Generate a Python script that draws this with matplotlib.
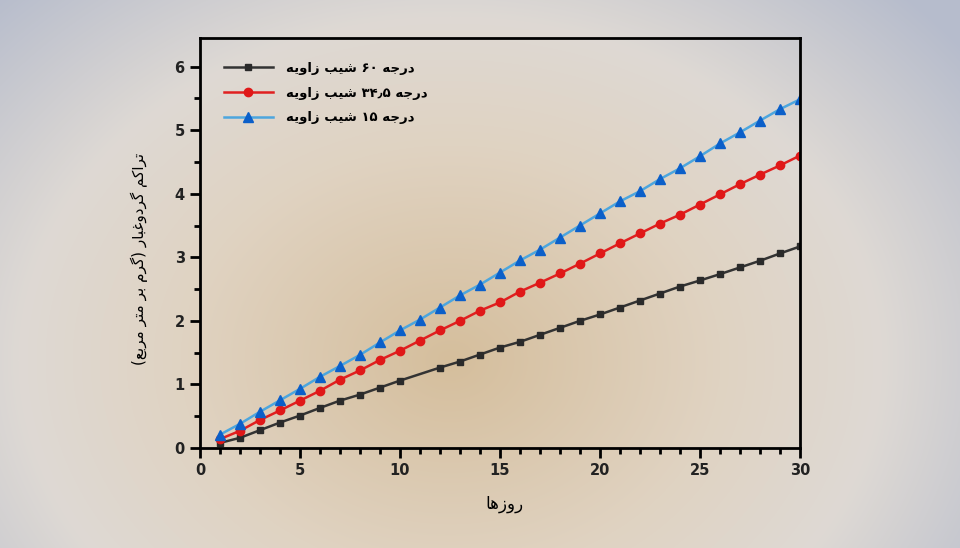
import re
import numpy as np
import matplotlib.pyplot as plt

# data
days_60 = [1, 2, 3, 4, 5, 6, 7, 8, 9, 10, 12, 13, 14, 15, 16, 17, 18, 19, 20,
           21, 22, 23, 24, 25, 26, 27, 28, 29, 30]
dust_60 = [0.08, 0.16, 0.28, 0.40, 0.51, 0.63, 0.745, 0.84, 0.95, 1.06, 1.265,
           1.36, 1.47, 1.58, 1.67, 1.78, 1.89, 2.00, 2.10, 2.21, 2.32, 2.43,
           2.54, 2.635, 2.735, 2.84, 2.945, 3.06, 3.17]

days = list(range(1, 31))
dust_345 = [0.14, 0.27, 0.44, 0.59, 0.745, 0.90, 1.075, 1.22, 1.385, 1.53,
            1.69, 1.85, 2.00, 2.16, 2.29, 2.46, 2.60, 2.745, 2.90, 3.06,
            3.22, 3.375, 3.53, 3.67, 3.83, 3.99, 4.15, 4.30, 4.445, 4.60]
dust_15 = [0.21, 0.38, 0.57, 0.75, 0.93, 1.12, 1.29, 1.465, 1.66, 1.85,
           2.02, 2.21, 2.40, 2.57, 2.76, 2.95, 3.12, 3.31, 3.50, 3.69,
           3.88, 4.04, 4.23, 4.40, 4.59, 4.79, 4.965, 5.15, 5.33, 5.485]

label_60 = 'زاویه شیب ۶۰ درجه'
label_345 = 'زاویه شیب ۳۴٫۵ درجه'
label_15 = 'زاویه شیب ۱۵ درجه'
xlabel = 'روزها'
ylabel = 'تراکم گردوغبار (گرم بر متر مربع)'

# matplotlib does no arabic shaping, so use presentation forms + reverse
FORMS = {
    'ا': ('\uFE8D', '\uFE8E', None, None),
    'ب': ('\uFE8F', '\uFE90', '\uFE91', '\uFE92'),
    'ت': ('\uFE95', '\uFE96', '\uFE97', '\uFE98'),
    'ج': ('\uFE9D', '\uFE9E', '\uFE9F', '\uFEA0'),
    'د': ('\uFEA9', '\uFEAA', None, None),
    'ر': ('\uFEAD', '\uFEAE', None, None),
    'ز': ('\uFEAF', '\uFEB0', None, None),
    'ش': ('\uFEB5', '\uFEB6', '\uFEB7', '\uFEB8'),
    'ع': ('\uFEC9', '\uFECA', '\uFECB', '\uFECC'),
    'غ': ('\uFECD', '\uFECE', '\uFECF', '\uFED0'),
    'ک': ('\uFB8E', '\uFB8F', '\uFB90', '\uFB91'),
    'گ': ('\uFB92', '\uFB93', '\uFB94', '\uFB95'),
    'م': ('\uFEE1', '\uFEE2', '\uFEE3', '\uFEE4'),
    'ه': ('\uFEE9', '\uFEEA', '\uFEEB', '\uFEEC'),
    'و': ('\uFEED', '\uFEEE', None, None),
    'ی': ('\uFBFC', '\uFBFD', '\uFBFE', '\uFBFF'),
}


def shape(text):
    out = []
    for i, ch in enumerate(text):
        if ch not in FORMS:
            out.append(ch)
            continue
        prev = text[i - 1] if i > 0 else ''
        nxt = text[i + 1] if i + 1 < len(text) else ''
        join_prev = prev in FORMS and FORMS[prev][2] is not None
        join_next = FORMS[ch][2] is not None and nxt in FORMS
        iso, fin, ini, med = FORMS[ch]
        if join_prev and join_next:
            out.append(med)
        elif join_prev:
            out.append(fin)
        elif join_next:
            out.append(ini)
        else:
            out.append(iso)
    return ''.join(out)


def fix_digits(s):
    return re.sub(r'[\u06F0-\u06F9\u066B0-9.]+', lambda m: m.group(0)[::-1], s)


def fa(text):
    # full right-to-left line
    s = shape(text)[::-1]
    s = s.translate(str.maketrans('()', ')('))
    return fix_digits(s)


def fa_words(text):
    # words kept in typed order, letters of each word right-to-left (as in the legend)
    return ' '.join(fix_digits(shape(w)[::-1]) for w in text.split(' '))


fig = plt.figure(figsize=(9.6, 5.48), dpi=100)

# radial background
h, w = 548, 960
yy, xx = np.mgrid[0:h, 0:w]
d = np.sqrt(((xx - 450) / 540.0) ** 2 + ((yy - 360) / 430.0) ** 2)
stops = [0.0, 0.5, 0.8, 1.2]
cols = np.array([[213, 190, 156], [224, 211, 194], [222, 217, 212], [182, 188, 204]]) / 255.0
img = np.dstack([np.interp(d, stops, cols[:, k]) for k in range(3)])
bg = fig.add_axes([0, 0, 1, 1], zorder=-1)
bg.imshow(img, aspect='auto')
bg.axis('off')

ax = fig.add_axes([0.2083, 0.1825, 0.625, 0.7482])
ax.set_facecolor('none')

ax.plot(days_60, dust_60, color='#333333', lw=1.8, marker='s', ms=5,
        mfc='#2a2a2a', mec='#2a2a2a', label=fa_words(label_60))
ax.plot(days, dust_345, color='#e02020', lw=1.8, marker='o', ms=6,
        mfc='#e01818', mec='#e01818', label=fa_words(label_345))
ax.plot(days, dust_15, color='#4ca6de', lw=1.8, marker='^', ms=7,
        mfc='#0b5fc9', mec='#0b5fc9', label=fa_words(label_15))

ax.set_xlim(0, 30)
ax.set_ylim(0, 6.45)
ax.set_xticks([0, 5, 10, 15, 20, 25, 30])
ax.set_xticks(np.arange(0, 31, 1), minor=True)
ax.set_yticks([0, 1, 2, 3, 4, 5, 6])
ax.set_yticks(np.arange(0, 6.5, 0.5), minor=True)
ax.tick_params(which='major', direction='out', length=7, width=2, labelsize=10.5, pad=4)
ax.tick_params(which='minor', direction='out', length=4, width=2)
for t in ax.get_xticklabels() + ax.get_yticklabels():
    t.set_fontweight('bold')
    t.set_color('#222222')
for sp in ax.spines.values():
    sp.set_linewidth(2)

ax.set_xlabel(fa(xlabel), fontsize=12, labelpad=12)
ax.set_ylabel(fa(ylabel), fontsize=11)
ax.yaxis.set_label_coords(-0.087, 0.46)
ax.xaxis.label.set_x(0.508)

leg = ax.legend(loc='upper left', frameon=False, handlelength=3.7,
                prop={'size': 9.5, 'weight': 'bold'}, labelspacing=0.9,
                borderaxespad=1.4, handletextpad=1.0)

plt.savefig('out.png', dpi=100)
